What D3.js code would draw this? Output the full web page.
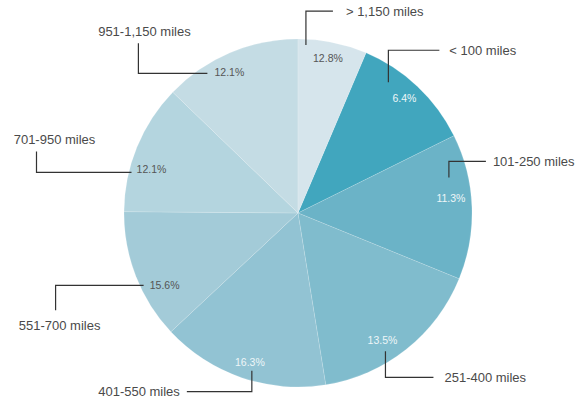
<!DOCTYPE html>
<html>
<head>
<meta charset="utf-8">
<script src="https://cdn.jsdelivr.net/npm/d3@7"></script>
<style>
  html, body { margin: 0; padding: 0; background: #fff; }
  svg { display: block; font-family: "Liberation Sans", Arial, sans-serif; }
</style>
</head>
<body>
<svg id="chart" width="588" height="401"></svg>
<script>
// ---- data ----
const categories = ["< 100 miles", "101-250 miles", "251-400 miles", "401-550 miles",
                    "551-700 miles", "701-950 miles", "951-1,150 miles", "> 1,150 miles"];
const shares = [6.4, 11.3, 13.5, 16.3, 15.6, 12.1, 12.1, 12.8];

// ---- styles ----
const sliceColors = ["#41a6be", "#6bb3c7", "#80bccd", "#92c3d3",
                     "#a3cbd8", "#b4d5df", "#c4dce4", "#d6e5ec"];
const pctColors = ["#eef6f8", "#eef6f8", "#eef6f8", "#eef6f8",
                   "#555", "#555", "#555", "#555"];
// label layout, relative to the percentage label (pixel offsets)
const pctOffsets = [[0,-2],[-2,-9],[-12,6],[2,3],[11,16],[-3,15],[-8,2],[-1,-3]];
const leaderPaths = [
  [[-16,-16],[-16,-48],[35,-48]],
  [[-2,-21],[-2,-37],[35,-37]],
  [[3,11],[3,37],[51,37]],
  [[2,8],[2,29],[-63,29]],
  [[-21,0],[-109,0],[-109,25]],
  [[-20,3],[-115,3],[-115,-18]],
  [[-22,1],[-91,1],[-91,-29]],
  [[-22,-13],[-22,-47],[5,-47]]
];
const nameOffsets = [[45,-48,"start"],[42,-37,"start"],[62,37,"start"],[-70,29,"end"],
                     [-105,40,"middle"],[-97,-30,"middle"],[-85,-41,"middle"],[18,-47,"start"]];

const cx = 298, cy = 213, R = 174, labelR = 155;
const n = categories.length;

const svg = d3.select("#chart");
const g = svg.append("g").attr("transform", `translate(${cx},${cy})`);

const pie = d3.pie().sort(null).value(d => d);
const arcs = pie(shares);
const arc = d3.arc().innerRadius(0).outerRadius(R);
const labelArc = d3.arc().innerRadius(labelR).outerRadius(labelR);

// In the reference, each category's colour and labels sit one slice further round
// than its own share: category c is drawn on wedge (c+1) mod n.
const items = categories.map((name, c) => ({
  name, c, share: shares[c], wedge: arcs[(c + 1) % n]
}));

g.selectAll("path.slice")
  .data(items)
  .join("path")
  .attr("class", "slice")
  .attr("d", d => arc(d.wedge))
  .attr("fill", d => sliceColors[d.c])
  .attr("stroke", "#ffffff")
  .attr("stroke-opacity", 0.25)
  .attr("stroke-width", 0.6);

items.forEach(d => {
  const [lx, ly] = labelArc.centroid(d.wedge);
  d.px = lx + pctOffsets[d.c][0];
  d.py = ly + pctOffsets[d.c][1];
});

const line = d3.line();
g.selectAll("path.leader")
  .data(items)
  .join("path")
  .attr("class", "leader")
  .attr("d", d => line(leaderPaths[d.c].map(p => [d.px + p[0], d.py + p[1]])))
  .attr("fill", "none")
  .attr("stroke", "#333")
  .attr("stroke-width", 1.2);

g.selectAll("text.pct")
  .data(items)
  .join("text")
  .attr("class", "pct")
  .attr("x", d => d.px)
  .attr("y", d => d.py)
  .attr("dy", "0.35em")
  .attr("text-anchor", "middle")
  .attr("font-size", "10.5px")
  .attr("fill", d => pctColors[d.c])
  .text(d => d3.format(".1f")(d.share) + "%");

g.selectAll("text.name")
  .data(items)
  .join("text")
  .attr("class", "name")
  .attr("x", d => d.px + nameOffsets[d.c][0])
  .attr("y", d => d.py + nameOffsets[d.c][1])
  .attr("dy", "0.35em")
  .attr("text-anchor", d => nameOffsets[d.c][2])
  .attr("font-size", "13px")
  .attr("fill", "#4a4a4a")
  .text(d => d.name);
</script>
</body>
</html>
